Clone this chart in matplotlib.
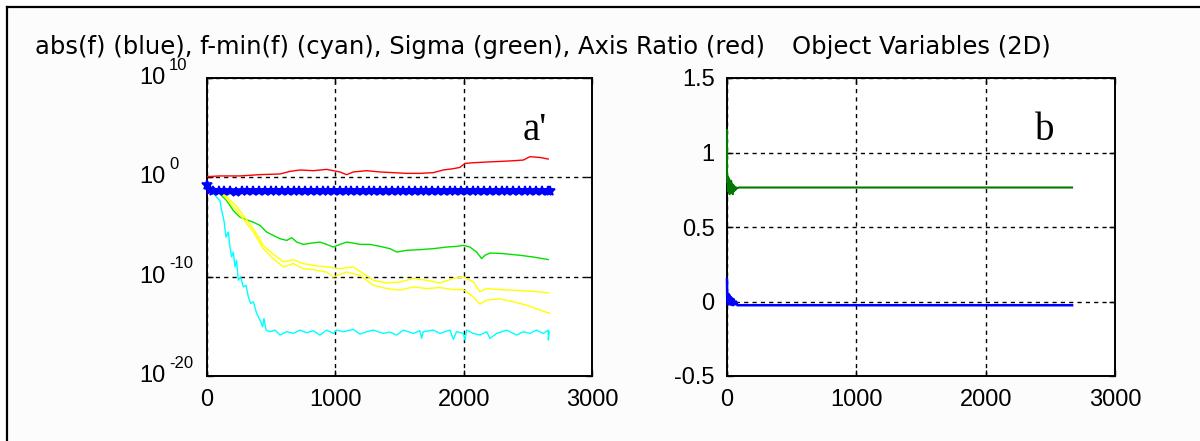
import numpy as np
import matplotlib
matplotlib.use("Agg")
import matplotlib.pyplot as plt
from matplotlib.lines import Line2D
from matplotlib.transforms import offset_copy

plt.rcParams['font.family'] = ['Liberation Sans', 'DejaVu Sans']

# ---------------- data (left panel, values are log10 exponents) ----------------
red_it = [0, 101, 257, 413, 569, 647, 725, 828, 932, 1036, 1088, 1140, 1244, 1348, 1452,
          1556, 1659, 1763, 1841, 1919, 1971, 2010, 2075, 2179, 2283, 2387, 2465, 2516, 2594, 2659]
red_log = [0.07, 0.14, 0.14, 0.27, 0.34, 0.60, 0.74, 0.67, 0.80, 0.54, 0.27, 0.54, 0.67, 0.54, 0.47,
           0.40, 0.40, 0.47, 0.74, 0.87, 1.00, 1.40, 1.47, 1.54, 1.60, 1.67, 1.74, 2.08, 2.00, 1.84]

green_it = [0, 49, 101, 153, 205, 257, 309, 361, 413, 465, 517, 569, 621, 660, 699, 751, 815, 880,
            932, 984, 1036, 1088, 1140, 1192, 1270, 1348, 1426, 1478, 1556, 1659, 1763, 1867, 1945,
            1997, 2049, 2101, 2140, 2166, 2205, 2309, 2439, 2542, 2659]
green_log = [-0.93, -1.07, -1.67, -2.34, -3.34, -4.01, -4.28, -4.51, -4.84, -5.51, -5.85, -6.18, -6.35,
             -6.08, -6.52, -6.75, -6.62, -6.52, -6.75, -7.02, -6.75, -6.52, -6.62, -6.75, -6.75, -6.95,
             -7.18, -7.52, -7.35, -7.28, -7.18, -7.02, -6.95, -6.85, -7.02, -7.52, -8.18, -7.85, -7.62,
             -7.68, -7.85, -8.02, -8.28]

yel1_it = [0, 101, 231, 361, 439, 517, 595, 673, 751, 828, 932, 1036, 1140, 1218, 1296, 1400, 1504,
           1608, 1711, 1815, 1919, 1997, 2075, 2127, 2179, 2283, 2387, 2491, 2594, 2659]
yel1_log = [-0.93, -1.27, -2.94, -5.18, -6.85, -7.75, -8.52, -8.29, -8.69, -8.86, -9.02, -9.19, -9.02,
            -9.69, -10.36, -10.63, -10.53, -10.19, -10.36, -10.63, -10.19, -10.03, -10.53, -11.53,
            -11.20, -11.30, -11.36, -11.43, -11.53, -11.63]

yel2_it = [0, 101, 231, 361, 439, 517, 595, 673, 751, 828, 932, 984, 1088, 1192, 1296, 1400, 1504,
           1608, 1711, 1815, 1919, 1997, 2075, 2127, 2179, 2283, 2387, 2491, 2594, 2672]
yel2_log = [-0.93, -1.40, -3.34, -5.51, -7.18, -8.19, -9.02, -8.69, -9.19, -9.29, -9.53, -10.03, -9.53,
            -9.86, -10.86, -11.20, -11.36, -11.03, -11.20, -11.10, -11.30, -11.30, -12.03, -12.77,
            -12.37, -12.23, -12.53, -12.87, -13.37, -13.70]

cyan_it = [0, 36, 75, 101, 114, 132, 148, 166, 179, 192, 205, 218, 231, 244, 262, 283, 304, 322, 340,
           361, 387, 413, 434, 444, 460, 491, 530, 569, 621, 673, 725, 777, 828, 880, 932, 984, 1010,
           1062, 1140, 1192, 1244, 1296, 1374, 1426, 1478, 1530, 1608, 1659, 1672, 1685, 1763, 1815,
           1893, 1919, 1945, 1997, 2010, 2023, 2075, 2127, 2179, 2205, 2257, 2335, 2413, 2465, 2516,
           2568, 2620, 2659, 2660, 2667]
cyan_log = [-0.93, -1.33, -2.00, -2.34, -3.34, -4.34, -6.02, -5.51, -7.02, -8.02, -7.52, -9.02, -8.36,
            -10.36, -10.03, -11.03, -10.86, -12.03, -12.70, -12.53, -13.70, -14.37, -15.04, -14.21,
            -15.38, -15.54, -15.38, -15.88, -15.54, -15.71, -15.38, -15.64, -15.44, -15.88, -15.38,
            -15.71, -15.38, -15.54, -15.31, -15.78, -15.54, -15.38, -15.71, -15.58, -15.88, -15.38,
            -15.71, -15.44, -16.21, -15.54, -15.38, -15.71, -15.38, -16.31, -15.54, -15.71, -16.38,
            -15.38, -15.71, -15.88, -15.54, -16.21, -15.71, -15.38, -15.88, -15.54, -15.71, -15.38,
            -15.71, -15.38, -16.38, -15.54]

blue_it = [0, 20, 45, 90, 135, 180, 225, 270, 315, 360, 405, 450, 495, 540, 585, 630, 675, 720, 765,
           810, 855, 900, 945, 990, 1035, 1080, 1125, 1170, 1215, 1260, 1305, 1350, 1395, 1440, 1485,
           1530, 1575, 1620, 1665, 1710, 1755, 1800, 1845, 1890, 1935, 1980, 2025, 2070, 2115, 2160,
           2205, 2250, 2295, 2340, 2385, 2430, 2475, 2520, 2565, 2610, 2655, 2675]
blue_log = [-0.75, -1.30, -1.40, -1.42, -1.38, -1.40, -1.43, -1.39, -1.41, -1.40, -1.42, -1.38, -1.40,
            -1.41, -1.39, -1.42, -1.40, -1.38, -1.41, -1.40, -1.42, -1.39, -1.40, -1.41, -1.38, -1.40,
            -1.42, -1.40, -1.39, -1.41, -1.40, -1.38, -1.42, -1.40, -1.41, -1.39, -1.40, -1.42, -1.38,
            -1.40, -1.41, -1.40, -1.39, -1.42, -1.40, -1.38, -1.41, -1.40, -1.42, -1.39, -1.40, -1.41,
            -1.38, -1.40, -1.42, -1.40, -1.39, -1.41, -1.40, -1.38, -1.40, -1.40]

# ---------------- data (right panel) ----------------
ov_green_it = [0, 0, 2, 5, 8, 11, 14, 17, 20, 24, 28, 32, 36, 40, 45, 50, 55, 60, 66, 72, 80, 90, 100, 2668]
ov_green = [1.15, 0.86, 0.80, 0.84, 0.74, 0.83, 0.76, 0.82, 0.72, 0.80, 0.75, 0.81, 0.73, 0.79, 0.72,
            0.78, 0.74, 0.77, 0.75, 0.765, 0.76, 0.765, 0.765, 0.765]
ov_blue_it = [0, 2, 5, 9, 13, 17, 21, 25, 30, 35, 40, 46, 52, 60, 70, 80, 100, 2668]
ov_blue = [0.15, 0.0, 0.03, -0.02, 0.05, -0.01, 0.04, -0.02, 0.03, -0.02, 0.02, -0.025, 0.015, -0.02,
           0.0, -0.025, -0.025, -0.025]

left_yticks_exp = [-20, -10, 0, 10]
left_ytick_base = ['10', '10', '10', '10']
left_ytick_exp_labels = ['-20', '-10', '0', '10']
xticks = [0, 1000, 2000, 3000]
right_yticks = [-0.5, 0, 0.5, 1, 1.5]
right_yticklabels = ['-0.5', '0', '0.5', '1', '1.5']

title_left = 'abs(f) (blue), f-min(f) (cyan), Sigma (green), Axis Ratio (red)'
title_right = 'Object Variables (2D)'

# ---------------- figure ----------------
W, H = 1200, 441
fig = plt.figure(figsize=(W / 100, H / 100), dpi=100)
fig.patch.set_facecolor('white')

bg = plt.Rectangle((7 / W, 0), 1 - 7 / W, 1 - 7 / H, transform=fig.transFigure,
                   facecolor='#fcfcfc', edgecolor='none', zorder=-10)
fig.patches.append(bg)
fig.add_artist(Line2D([7 / W, 7 / W], [0, 1 - 7 / H], color='black', lw=1.6, transform=fig.transFigure))
fig.add_artist(Line2D([7 / W, 1], [1 - 7 / H, 1 - 7 / H], color='black', lw=1.6, transform=fig.transFigure))

axL = fig.add_axes([207 / W, 1 - 376 / H, 385 / W, 298 / H])
axR = fig.add_axes([727 / W, 1 - 376 / H, 388 / W, 298 / H])

grid_kw = dict(color='black', linestyle=(0, (3, 3)), linewidth=1.0)

def tenpow(vals):
    return 10.0 ** np.asarray(vals, dtype=float)

axL.set_yscale('log')
line_kw = dict(lw=1.0, zorder=3)
axL.plot(red_it, tenpow(red_log), color='#ff0000', **line_kw)
axL.plot(green_it, tenpow(green_log), color='#00e000', **line_kw)
axL.plot(yel1_it, tenpow(yel1_log), color='#ffff00', **line_kw)
axL.plot(yel2_it, tenpow(yel2_log), color='#ffff00', **line_kw)
axL.plot(cyan_it, tenpow(cyan_log), color='#00ffff', **line_kw)
axL.plot(blue_it, tenpow(blue_log), color='#0000ff', lw=3.5, marker='*', ms=7.5, mew=1.2, zorder=3,
         clip_on=False)
axL.set_xlim(0, 3000)
axL.set_ylim(1e-20, 1e10)
axL.set_xticks(xticks)
axL.set_xticklabels([str(t) for t in xticks])
axL.set_yticks(tenpow(left_yticks_exp))
axL.set_yticklabels([])
axL.yaxis.set_minor_locator(matplotlib.ticker.NullLocator())

# MATLAB-style log tick labels: base right-aligned, exponent after it
base_tr = offset_copy(axL.get_yaxis_transform(), fig=fig, x=-41, y=0, units='dots')
exp_tr = offset_copy(axL.get_yaxis_transform(), fig=fig, x=-38, y=13, units='dots')
for e, b, lab in zip(left_yticks_exp, left_ytick_base, left_ytick_exp_labels):
    axL.text(0, 10.0 ** e, b, transform=base_tr, ha='right', va='center', fontsize=17, clip_on=False)
    axL.text(0, 10.0 ** e, lab, transform=exp_tr, ha='left', va='center', fontsize=12, clip_on=False)

axL.text(0.852, 0.792, "a'", transform=axL.transAxes, ha='center', va='baseline',
         family='Liberation Serif', fontsize=28)

axR.plot(ov_green_it, ov_green, color='#007a00', lw=1.5, zorder=3, clip_on=False)
axR.plot(ov_blue_it, ov_blue, color='#0000ff', lw=1.8, zorder=3, clip_on=False)
axR.set_xlim(0, 3000)
axR.set_ylim(-0.5, 1.5)
axR.set_xticks(xticks)
axR.set_xticklabels([str(t) for t in xticks])
axR.set_yticks(right_yticks)
axR.set_yticklabels(right_yticklabels)
axR.text(0.82, 0.792, "b", transform=axR.transAxes, ha='center', va='baseline',
         family='Liberation Serif', fontsize=28)

for ax in (axL, axR):
    ax.set_facecolor('white')
    for s in ax.spines.values():
        s.set_linewidth(1.4)
        s.set_color('black')
    ax.tick_params(direction='in', length=4, width=1, top=True, right=True,
                   labelsize=17, pad=9, colors='black')
    ax.grid(True, which='major', **grid_kw)

fig.text(400 / W, 1 - 47 / H, title_left, ha='center', va='center', fontsize=17.5,
         family='DejaVu Sans')
fig.text(921 / W, 1 - 47 / H, title_right, ha='center', va='center', fontsize=17.5,
         family='DejaVu Sans')

fig.savefig('out.png', dpi=100)
